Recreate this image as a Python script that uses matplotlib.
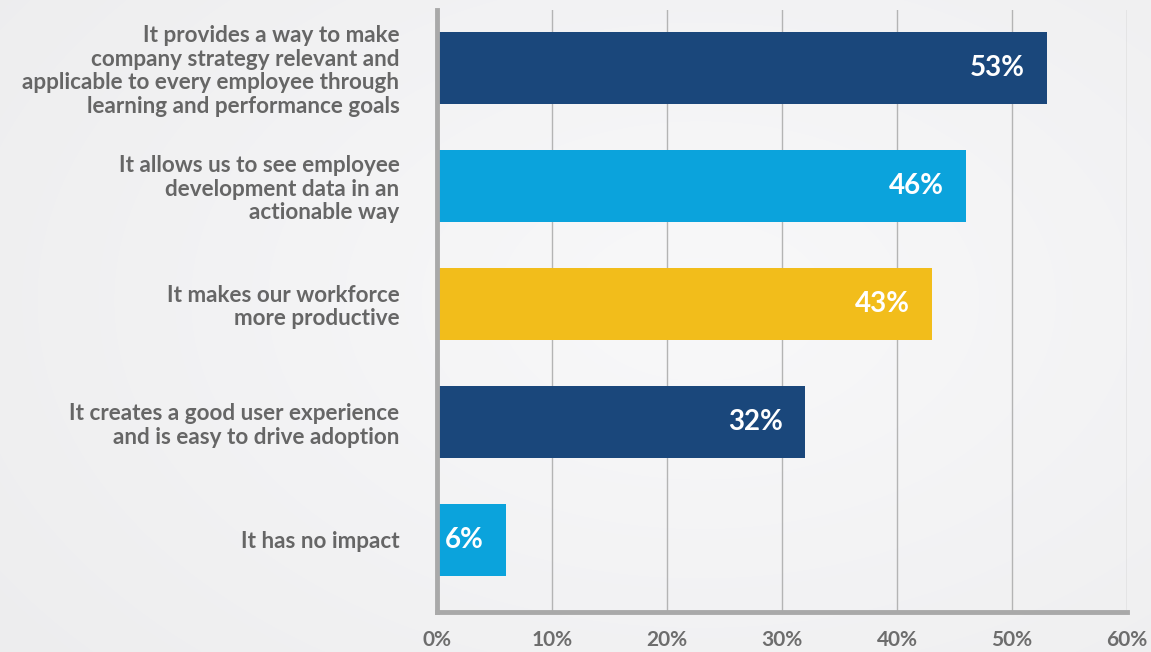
import numpy as np
import matplotlib
matplotlib.use("Agg")
import matplotlib.pyplot as plt
from matplotlib.transforms import offset_copy

categories = [
    "It provides a way to make\ncompany strategy relevant and\napplicable to every employee through\nlearning and performance goals",
    "It allows us to see employee\ndevelopment data in an\nactionable way",
    "It makes our workforce\nmore productive",
    "It creates a good user experience\nand is easy to drive adoption",
    "It has no impact",
]
values = [53, 46, 43, 32, 6]
bar_colors = ["#1a477b", "#0ba3dc", "#f2bd1b", "#1a477b", "#0ba3dc"]
x_ticks = [0, 10, 20, 30, 40, 50, 60]
x_tick_labels = ["0%", "10%", "20%", "30%", "40%", "50%", "60%"]

plt.rcParams["font.family"] = ["Lato", "DejaVu Sans"]

W, H = 1151, 652
fig = plt.figure(figsize=(W / 100, H / 100), dpi=100)

# soft radial background
bg = fig.add_axes([0, 0, 1, 1], zorder=-10)
yy, xx = np.mgrid[0:H, 0:W]
r = np.sqrt(((xx - 700) / 700.0) ** 2 + ((yy - 300) / 450.0) ** 2)
shade = 0.975 - 0.05 * np.clip(r, 0, 1.4) / 1.4
bg.imshow(np.dstack([shade, shade, shade * 1.005]).clip(0, 1), aspect="auto",
          extent=[0, 1, 0, 1])
bg.axis("off")

ax = fig.add_axes([437 / W, 1 - 612 / H, (1127 - 437) / W, (612 - 10) / H])
ax.set_facecolor("none")

ypos = np.arange(len(values))
ax.barh(ypos, values, height=0.605, color=bar_colors, zorder=3)

ax.set_xlim(0, 60)
ax.set_ylim(4.61, -0.49)

ax.set_xticks(x_ticks)
ax.set_xticklabels(x_tick_labels, fontsize=15, fontweight="bold", color="#6d6d6d")
ax.tick_params(axis="x", length=0, pad=13)
ax.grid(axis="x", color="#b4b4b4", linewidth=1.0, zorder=0)

ax.set_yticks(ypos)
ax.set_yticklabels(categories, fontsize=16.2, fontweight="bold", color="#666666",
                   linespacing=1.15)
ax.tick_params(axis="y", length=0, pad=27)

for side in ("top", "right"):
    ax.spines[side].set_visible(False)
for side in ("left", "bottom"):
    ax.spines[side].set_color("#a9a9a9")
    ax.spines[side].set_linewidth(3.5)
    ax.spines[side].set_zorder(4)

label_tr = offset_copy(ax.transData, fig=fig, x=-22, y=0, units="dots")
for y, v in zip(ypos, values):
    ax.text(v, y, f"{v}%", transform=label_tr, ha="right", va="center",
            fontsize=20, fontweight="bold", color="white", zorder=5)

fig.savefig("out.png", dpi=100)
